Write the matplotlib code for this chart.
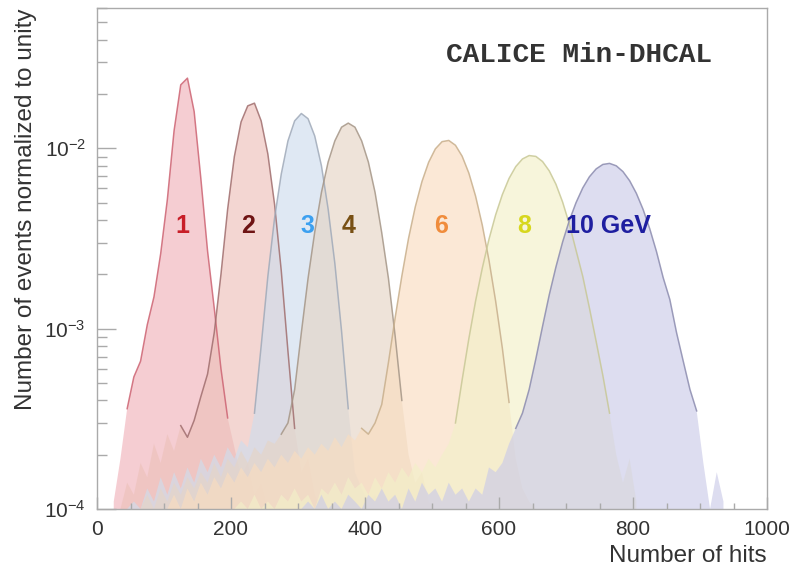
import numpy as np
import matplotlib
matplotlib.use("Agg")
import matplotlib.pyplot as plt
from matplotlib.ticker import FixedLocator, LogLocator, FuncFormatter, NullFormatter

plt.rcParams['font.family'] = ['Liberation Sans', 'DejaVu Sans']
plt.rcParams['mathtext.fontset'] = 'custom'
plt.rcParams['mathtext.rm'] = 'Liberation Sans'
plt.rcParams['mathtext.it'] = 'Liberation Sans:italic'
plt.rcParams['mathtext.bf'] = 'Liberation Sans:bold'

# Beam energies and per-energy hit distributions (fraction of events per hit),
# sampled every 10 hits starting at FIRST_CENTER
ENERGY_LABELS = ['1', '2', '3', '4', '6', '8', '10 GeV']
FIRST_CENTER = [25, 35, 45, 65, 105, 205, 305]

E1 = [1.1e-4, 1.9e-4, 3.6e-4, 5.4e-4, 6.6e-4, 1.05e-3, 1.5e-3, 2.6e-3, 5.2e-3,
      1.25e-2, 2.25e-2, 2.45e-2, 1.6e-2, 6.8e-3, 2.7e-3, 1.3e-3, 6.0e-4, 3.2e-4,
      2.2e-4, 1.5e-4, 1.8e-4, 1.2e-4, 1.4e-4, 1.0e-4]

E2 = [1.0e-4, 1.4e-4, 1.2e-4, 1.8e-4, 1.5e-4, 2.3e-4, 1.8e-4, 2.6e-4, 2.1e-4,
      2.9e-4, 2.5e-4, 3.1e-4, 4.2e-4, 5.6e-4, 9.5e-4, 2.0e-3, 4.6e-3, 9.0e-3,
      1.40e-2, 1.72e-2, 1.78e-2, 1.42e-2, 9.3e-3, 4.9e-3, 2.1e-3, 7.5e-4,
      2.8e-4, 1.6e-4, 1.9e-4, 1.2e-4, 1.0e-4]

E3 = [1.0e-4, 1.1e-4, 1.0e-4, 1.3e-4, 1.1e-4, 1.5e-4, 1.2e-4, 1.6e-4, 1.3e-4,
      1.7e-4, 1.4e-4, 1.9e-4, 1.6e-4, 2.0e-4, 1.7e-4, 2.2e-4, 1.9e-4, 2.4e-4,
      2.2e-4, 3.4e-4, 8.0e-4, 1.95e-3, 4.1e-3, 7.2e-3, 1.10e-2, 1.42e-2,
      1.56e-2, 1.46e-2, 1.17e-2, 8.0e-3, 4.6e-3, 2.3e-3, 9.7e-4, 3.6e-4,
      1.6e-4, 1.3e-4, 1.1e-4, 1.2e-4, 1.0e-4]

E4 = [1.0e-4, 1.2e-4, 1.0e-4, 1.3e-4, 1.1e-4, 1.4e-4, 1.2e-4, 1.5e-4, 1.3e-4,
      1.6e-4, 1.4e-4, 1.8e-4, 1.5e-4, 1.9e-4, 1.7e-4, 2.1e-4, 1.8e-4, 2.2e-4,
      2.0e-4, 2.4e-4, 2.3e-4, 2.6e-4, 3.0e-4, 4.6e-4, 9.5e-4, 1.9e-3, 3.44e-3,
      5.7e-3, 8.4e-3, 1.10e-2, 1.31e-2, 1.38e-2, 1.31e-2, 1.10e-2, 8.4e-3,
      5.7e-3, 3.4e-3, 1.9e-3, 9.1e-4, 4.0e-4, 2.0e-4, 1.4e-4, 1.6e-4, 1.1e-4,
      1.0e-4]

E6 = [1.0e-4, 1.2e-4, 1.0e-4, 1.3e-4, 1.1e-4, 1.4e-4, 1.2e-4, 1.5e-4, 1.3e-4,
      1.6e-4, 1.4e-4, 1.7e-4, 1.5e-4, 1.8e-4, 1.6e-4, 1.9e-4, 1.7e-4, 2.0e-4,
      1.8e-4, 2.1e-4, 1.9e-4, 2.2e-4, 2.0e-4, 2.3e-4, 2.1e-4, 2.5e-4, 2.2e-4,
      2.6e-4, 2.4e-4, 2.8e-4, 2.6e-4, 3.0e-4, 3.8e-4, 6.5e-4, 1.15e-3, 1.96e-3,
      3.17e-3, 4.73e-3, 6.54e-3, 8.37e-3, 9.93e-3, 1.089e-2, 1.106e-2, 1.04e-2,
      9.04e-3, 7.29e-3, 5.44e-3, 3.76e-3, 2.4e-3, 1.42e-3, 7.8e-4, 3.9e-4,
      1.9e-4, 1.3e-4, 1.1e-4, 1.0e-4]

E8 = [1.0e-4, 1.1e-4, 1.0e-4, 1.2e-4, 1.0e-4, 1.1e-4, 1.0e-4, 1.2e-4, 1.1e-4,
      1.3e-4, 1.1e-4, 1.2e-4, 1.0e-4, 1.3e-4, 1.2e-4, 1.4e-4, 1.2e-4, 1.5e-4,
      1.3e-4, 1.4e-4, 1.2e-4, 1.5e-4, 1.3e-4, 1.6e-4, 1.4e-4, 1.7e-4, 1.5e-4,
      1.8e-4, 1.6e-4, 1.9e-4, 1.7e-4, 2.0e-4, 2.3e-4, 3.0e-4, 5.2e-4, 8.8e-4,
      1.42e-3, 2.16e-3, 3.13e-3, 4.28e-3, 5.54e-3, 6.81e-3, 7.92e-3, 8.73e-3,
      9.12e-3, 9.02e-3, 8.45e-3, 7.5e-3, 6.32e-3, 5.03e-3, 3.8e-3, 2.72e-3,
      1.95e-3, 1.3e-3, 8.5e-4, 5.5e-4, 3.4e-4, 2.0e-4, 1.4e-4, 1.9e-4, 1.1e-4]

E10 = [1.0e-4, 1.1e-4, 1.0e-4, 1.2e-4, 1.0e-4, 1.1e-4, 1.0e-4, 1.2e-4, 1.1e-4,
       1.0e-4, 1.2e-4, 1.1e-4, 1.3e-4, 1.1e-4, 1.2e-4, 1.0e-4, 1.3e-4, 1.1e-4,
       1.4e-4, 1.2e-4, 1.3e-4, 1.1e-4, 1.4e-4, 1.2e-4, 1.3e-4, 1.1e-4, 1.3e-4,
       1.2e-4, 1.7e-4, 1.6e-4, 1.8e-4, 2.3e-4, 2.8e-4, 3.4e-4, 4.6e-4, 6.8e-4,
       1.03e-3, 1.54e-3, 2.2e-3, 3.03e-3, 3.98e-3, 5.0e-3, 6.03e-3, 6.96e-3,
       7.69e-3, 8.14e-3, 8.25e-3, 8.0e-3, 7.43e-3, 6.61e-3, 5.63e-3, 4.59e-3,
       3.58e-3, 2.68e-3, 1.92e-3, 1.45e-3, 9.5e-4, 6.6e-4, 4.6e-4, 3.5e-4,
       1.8e-4, 1.0e-4, 1.6e-4, 1.1e-4]

SERIES = [E1, E2, E3, E4, E6, E8, E10]

# Label anchor (number of hits) for each energy tag
LABEL_HITS = [128, 226, 314, 375, 513, 638, 763]
LABEL_LEVEL = 3.7e-3

FILL_COLORS = ['#f1b2bb', '#edc1ba', '#cfdded', '#e5d4c6', '#f9ddc0', '#f3f0c9', '#cbcbe8']
EDGE_COLORS = ['#cd6473', '#a06e6e', '#a0aab9', '#a59687', '#c8af8c', '#c8c896', '#8c8caf']
TEXT_COLORS = ['#c81e28', '#6e1414', '#3ca0f0', '#785014', '#f08c3c', '#d7d71e', '#1e1ea0']

fig = plt.figure(figsize=(7.9, 5.69), dpi=100)
ax = fig.add_axes([97 / 790, 1 - 509 / 569, 670 / 790, 501 / 569])
ax.set_yscale('log')

curves = []
for vals, start in zip(SERIES, FIRST_CENTER):
    vals = np.asarray(vals)
    curves.append((start + 10 * np.arange(len(vals)), vals))

# filled areas first, outlines on top so every curve stays visible
for (hits, vals), fc in zip(curves, FILL_COLORS):
    ax.fill_between(hits, vals, 1e-6, color=fc, alpha=0.65, linewidth=0)
for (hits, vals), ec in zip(curves, EDGE_COLORS):
    outline = np.where(vals >= 2.5e-4, vals, np.nan)
    ax.plot(hits, outline, color=ec, linewidth=1.1, alpha=0.85)

for txt, xh, tc in zip(ENERGY_LABELS, LABEL_HITS, TEXT_COLORS):
    ax.text(xh, LABEL_LEVEL, txt, color=tc, fontsize=18, fontweight='bold',
            ha='center', va='center')

ax.text(0.719, 0.906, 'CALICE Min-DHCAL', transform=ax.transAxes,
        family=['Liberation Mono', 'DejaVu Sans Mono'], fontweight='bold',
        fontsize=20, color='#333333', ha='center', va='center')

ax.set_xlim(0, 1000)
ax.set_ylim(1e-4, 0.06)

frame = '#aaaaaa'
for s in ax.spines.values():
    s.set_color(frame)
    s.set_linewidth(1.0)

ax.xaxis.set_major_locator(FixedLocator([0, 200, 400, 600, 800, 1000]))
ax.xaxis.set_minor_locator(FixedLocator(np.arange(0, 1001, 50)))
ax.yaxis.set_major_locator(LogLocator(base=10, numticks=10))
ax.yaxis.set_minor_locator(LogLocator(base=10, subs=np.arange(2, 10), numticks=10))
ax.yaxis.set_minor_formatter(NullFormatter())
ax.yaxis.set_major_formatter(FuncFormatter(
    lambda v, p: r'$10^{%d}$' % int(round(np.log10(v)))))

ax.tick_params(axis='both', which='both', direction='in', color=frame,
               labelcolor='#333333', top=False, right=False)
ax.tick_params(axis='x', which='major', length=9, width=1, labelsize=15, pad=8)
ax.tick_params(axis='x', which='minor', length=4.5, width=1)
ax.tick_params(axis='y', which='major', length=14, width=1, labelsize=15, pad=8)
ax.tick_params(axis='y', which='minor', length=7, width=1)

ax.set_xlabel('Number of hits', loc='right', fontsize=17.5, color='#333333', labelpad=4)
ax.set_ylabel('Number of events normalized to unity', loc='top', fontsize=17.5,
              color='#333333', labelpad=5)

fig.savefig('out.png', dpi=100)
